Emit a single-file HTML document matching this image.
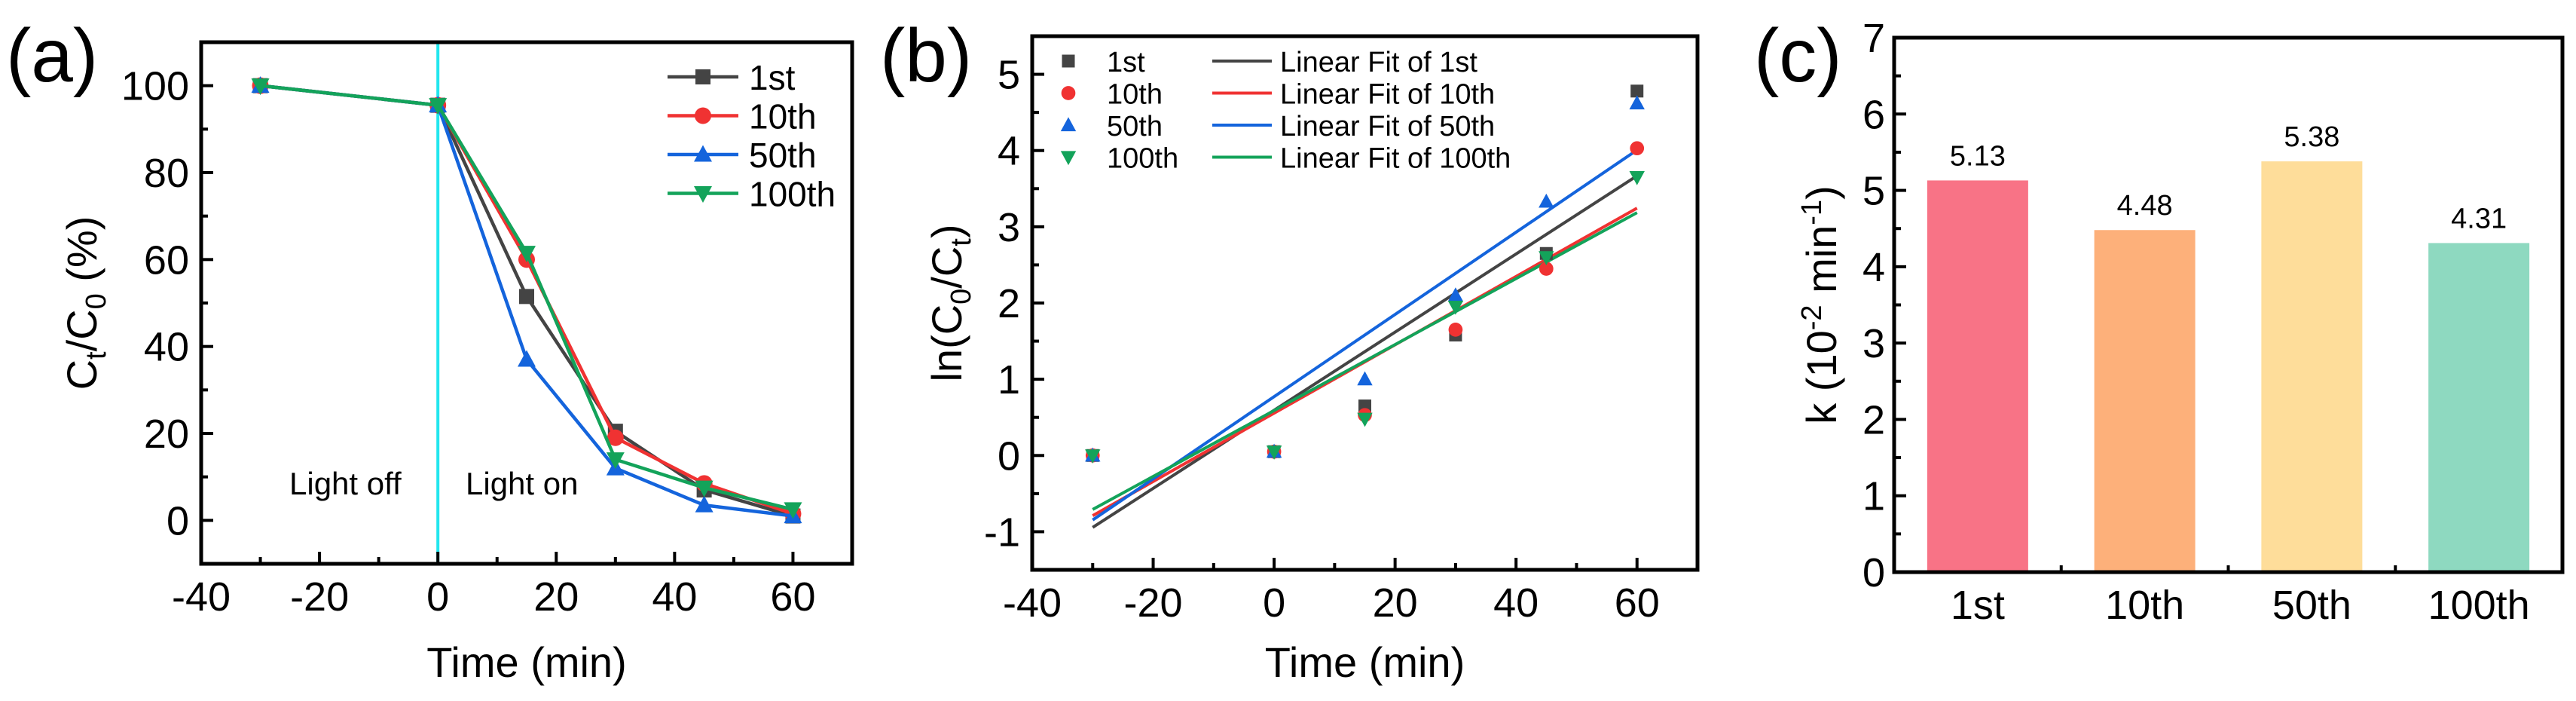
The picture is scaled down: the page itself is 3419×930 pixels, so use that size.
<!DOCTYPE html>
<html><head><meta charset="utf-8"><style>
html,body{margin:0;padding:0;background:#fff}
svg{display:block;font-family:"Liberation Sans",Arial,sans-serif}
</style></head><body>
<svg id="fig" width="3419" height="930" viewBox="0 0 3419 930" xmlns="http://www.w3.org/2000/svg"></svg>
<script>
const timesA = [-30, 0, 15, 30, 45, 60];
const seriesNames = ["1st", "10th", "50th", "100th"];
const a1st = [100, 95.5, 51.5, 20.5, 7, 1];
const a10th = [100, 95.5, 60, 19, 8.5, 1.5];
const a50th = [100, 95.5, 37, 12, 3.5, 1];
const a100th = [100, 95.5, 61.5, 14, 7.5, 2.5];
const b1st = [0, 0.05, 0.65, 1.58, 2.65, 4.78];
const b10th = [0, 0.05, 0.53, 1.65, 2.45, 4.03];
const b50th = [0, 0.05, 1.0, 2.1, 3.33, 4.62];
const b100th = [0, 0.05, 0.48, 1.95, 2.6, 3.65];
const xTicksAB = [-40, -20, 0, 20, 40, 60];
const yTicksA = [0, 20, 40, 60, 80, 100];
const yTicksB = [-1, 0, 1, 2, 3, 4, 5];
const cCats = ["1st", "10th", "50th", "100th"];
const cVals = [5.13, 4.48, 5.38, 4.31];
const cLabels = ["5.13", "4.48", "5.38", "4.31"];
const yTicksC = [0, 1, 2, 3, 4, 5, 6, 7];

const colors = ["#444444", "#f03232", "#1464dc", "#13a35a"];
const barColors = ["#f87386", "#fdb07a", "#fedd9a", "#8ed9c0"];
const NS = "http://www.w3.org/2000/svg";
const svg = document.getElementById("fig");
function el(tag, attrs, parent, text){
  const e = document.createElementNS(NS, tag);
  for (const k in attrs) e.setAttribute(k, attrs[k]);
  if (text !== undefined) e.textContent = text;
  (parent || svg).appendChild(e);
  return e;
}
function lin(d0,d1,r0,r1){return v=>r0+(v-d0)/(d1-d0)*(r1-r0);}
function marker(g, kind, x, y, c, s){
  let m;
  if (kind===0) m = el("rect",{x:x-s,y:y-s,width:2*s,height:2*s,fill:c},g);
  else if (kind===1) m = el("circle",{cx:x,cy:y,r:s*1.1,fill:c},g);
  else if (kind===2) m = el("polygon",{points:`${x},${y-s*1.25} ${x-s*1.2},${y+s*0.95} ${x+s*1.2},${y+s*0.95}`,fill:c},g);
  else m = el("polygon",{points:`${x},${y+s*1.25} ${x-s*1.2},${y-s*0.95} ${x+s*1.2},${y-s*0.95}`,fill:c},g);
  
  
  return m;
}
function frame(g, L,T,R,B){
  const r = el("rect",{x:L,y:T,width:R-L,height:B-T,fill:"none",stroke:"#000","stroke-width":5},g);
  
  
}
function axes(g, sx, sy, L,T,R,B, xt, xminor, yt, yminor){
  const fs=54;
  xt.forEach(v=>{const x=sx(v);
    el("line",{x1:x,y1:B,x2:x,y2:B-16,stroke:"#000","stroke-width":4},g);
    const t=el("text",{x:x,y:B+62,"text-anchor":"middle","font-size":fs},g,String(v));
    
    });
  xminor.forEach(v=>{const x=sx(v);el("line",{x1:x,y1:B,x2:x,y2:B-9,stroke:"#000","stroke-width":4},g);});
  yt.forEach(v=>{const y=sy(v);
    el("line",{x1:L,y1:y,x2:L+16,y2:y,stroke:"#000","stroke-width":4},g);
    const t=el("text",{x:L-16,y:y+19,"text-anchor":"end","font-size":fs},g,String(v));
    
    });
  yminor.forEach(v=>{const y=sy(v);el("line",{x1:L,y1:y,x2:L+9,y2:y,stroke:"#000","stroke-width":4},g);});
}

// ---------- Panel A ----------
(function(){
  const g = el("g",{});  
  const L=267,R=1131,T=56,B=748;
  const sx=lin(-40,70,L,R), sy=lin(-10,110,B,T);
  const lab=el("text",{x:8,y:108,"font-size":100},g,"(a)");
   
  const cy=el("line",{x1:sx(0),y1:T,x2:sx(0),y2:B,stroke:"#22e6ee","stroke-width":4},g);
   
  const t1=el("text",{x:384,y:656,"font-size":42},g,"Light off");
   
  const t2=el("text",{x:618,y:656,"font-size":42},g,"Light on");
   
  const data=[a1st,a10th,a50th,a100th];
  data.forEach((s,i)=>{
    const sg=el("g",{},g);  
    el("polyline",{points:s.map((v,j)=>sx(timesA[j])+","+sy(v)).join(" "),fill:"none",stroke:colors[i],"stroke-width":4.5},sg);
    s.forEach((v,j)=>marker(sg,i,sx(timesA[j]),sy(v),colors[i],10));
  });
  seriesNames.forEach((n,i)=>{
    const y=102+i*51.5;
    const lg=el("g",{},g);  
    el("line",{x1:886,y1:y,x2:980,y2:y,stroke:colors[i],"stroke-width":4.5},lg);
    marker(lg,i,933,y,colors[i],10);
    el("text",{x:994,y:y+17,"font-size":46},lg,n);
  });
  axes(g,sx,sy,L,T,R,B,xTicksAB,[-30,-10,10,30,50],yTicksA,[-10,10,30,50,70,90]);
  frame(g,L,T,R,B);
  const xt=el("text",{x:sx(15),y:898,"text-anchor":"middle","font-size":56},g,"Time (min)");
   
  const yt=el("text",{transform:`translate(128,${(T+B)/2}) rotate(-90)`,"text-anchor":"middle","font-size":56},g);
   
  el("tspan",{},yt,"C"); el("tspan",{"font-size":38,dy:12},yt,"t"); el("tspan",{dy:-12},yt,"/C");
  el("tspan",{"font-size":38,dy:12},yt,"0"); el("tspan",{dy:-12},yt," (%)");
})();

// ---------- Panel B ----------
(function(){
  const g = el("g",{});  
  const L=1370,R=2253,T=48,B=756;
  const sx=lin(-40,70,L,R), sy=lin(-1.5,5.5,B,T);
  const lab=el("text",{x:1168,y:108,"font-size":100},g,"(b)");
   
  const data=[b1st,b10th,b50th,b100th];
  data.forEach((s,i)=>{
    const n=s.length, mx=timesA.reduce((a,b)=>a+b,0)/n, my=s.reduce((a,b)=>a+b,0)/n;
    let sxy=0,sxx=0; s.forEach((v,j)=>{sxy+=(timesA[j]-mx)*(v-my);sxx+=(timesA[j]-mx)**2;});
    const k=sxy/sxx, b0=my-k*mx, x0=timesA[0], x1=timesA[n-1];
    const f=el("line",{x1:sx(x0),y1:sy(b0+k*x0),x2:sx(x1),y2:sy(b0+k*x1),stroke:colors[i],"stroke-width":4},g);
     
  });
  data.forEach((s,i)=>{
    const sg=el("g",{},g);  
    s.forEach((v,j)=>marker(sg,i,sx(timesA[j]),sy(v),colors[i],8.5));
  });
  seriesNames.forEach((n,i)=>{
    const y=81+i*42.5;
    const lg=el("g",{},g);  
    marker(lg,i,1418,y,colors[i],8.5);
    el("text",{x:1469,y:y+14,"font-size":38},lg,n);
    const lf=el("g",{},g);  
    el("line",{x1:1609,y1:y,x2:1688,y2:y,stroke:colors[i],"stroke-width":4},lf);
    el("text",{x:1699,y:y+14,"font-size":38},lf,"Linear Fit of "+n);
  });
  axes(g,sx,sy,L,T,R,B,xTicksAB,[-30,-10,10,30,50],yTicksB,[-0.5,0.5,1.5,2.5,3.5,4.5]);
  frame(g,L,T,R,B);
  const xt=el("text",{x:sx(15),y:898,"text-anchor":"middle","font-size":56},g,"Time (min)");
   
  const yt=el("text",{transform:`translate(1276,${(T+B)/2}) rotate(-90)`,"text-anchor":"middle","font-size":56},g);
   
  el("tspan",{},yt,"ln(C"); el("tspan",{"font-size":38,dy:12},yt,"0"); el("tspan",{dy:-12},yt,"/C");
  el("tspan",{"font-size":38,dy:12},yt,"t"); el("tspan",{dy:-12},yt,")");
})();

// ---------- Panel C ----------
(function(){
  const g = el("g",{});  
  const L=2514,R=3401,T=50,B=759;
  const sy=lin(0,7,B,T), step=(R-L)/cCats.length, bw=134;
  const lab=el("text",{x:2328,y:108,"font-size":100},g,"(c)");
   
  cVals.forEach((v,i)=>{
    const cx=L+step*(i+0.5);
    const r=el("rect",{x:cx-bw/2,y:sy(v),width:bw,height:B-sy(v),fill:barColors[i]},g);
     
    const t=el("text",{x:cx,y:sy(v)-20,"text-anchor":"middle","font-size":38},g,cLabels[i]);
     
    const c=el("text",{x:cx,y:B+62,"text-anchor":"middle","font-size":54},g,cCats[i]);
     
  });
  for(let i=1;i<cCats.length;i++){const x=L+step*i;el("line",{x1:x,y1:B,x2:x,y2:B-9,stroke:"#000","stroke-width":4},g);}
  yTicksC.forEach(v=>{const y=sy(v);
    el("line",{x1:L,y1:y,x2:L+16,y2:y,stroke:"#000","stroke-width":4},g);
    const t=el("text",{x:L-12,y:y+19,"text-anchor":"end","font-size":54},g,String(v));
     });
  yTicksC.slice(0,-1).forEach(v=>{const y=sy(v+0.5);el("line",{x1:L,y1:y,x2:L+9,y2:y,stroke:"#000","stroke-width":4},g);});
  frame(g,L,T,R,B);
  const yt=el("text",{transform:`translate(2437,${(T+B)/2}) rotate(-90)`,"text-anchor":"middle","font-size":56},g);
   
  el("tspan",{},yt,"k (10"); el("tspan",{"font-size":38,dy:-20},yt,"-2"); el("tspan",{dy:20},yt," min");
  el("tspan",{"font-size":38,dy:-20},yt,"-1"); el("tspan",{dy:20},yt,")");
})();
</script>
</body></html>
